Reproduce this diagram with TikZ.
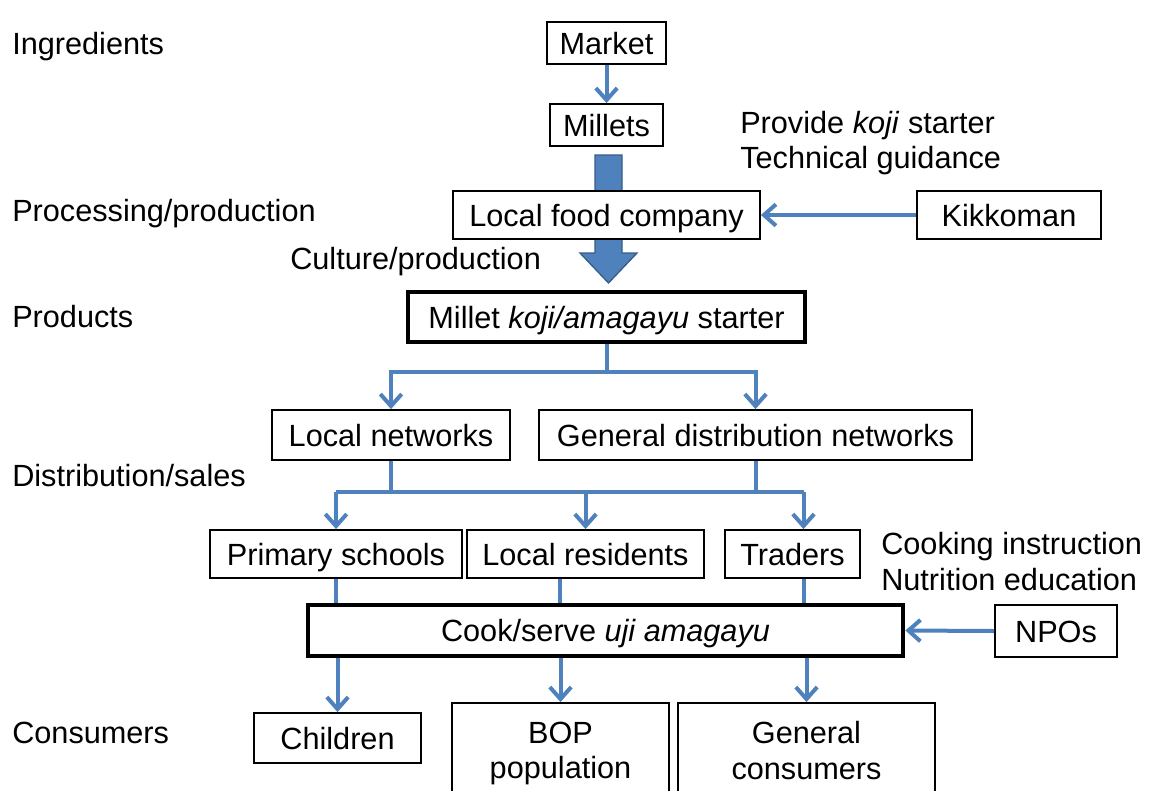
\documentclass[tikz,border=0pt]{standalone}
\usepackage{fontspec}
\setmainfont{Liberation Sans}
\usetikzlibrary{arrows.meta,fit,calc}
\definecolor{flowblue}{RGB}{79,129,189}
\definecolor{flowedge}{RGB}{56,93,138}
\begin{document}
\begin{tikzpicture}[x=0.75pt,y=-0.75pt,
  every node/.style={font=\fontsize{23}{26.5}\selectfont},
  every label/.style={text height=20pt,text depth=3.5pt,inner sep=0pt},
  box/.style={draw=black,line width=1.4pt,fill=white,inner sep=0pt},
  bigbox/.style={draw=black,line width=3.6pt,fill=white,inner sep=0pt},
  lbl/.style={anchor=base west,inner sep=0pt},
  conn/.style={draw=flowblue,line width=3pt},
  arr/.style={-{Straight Barb[length=9pt,width=16pt,line width=3pt]}}]
\useasboundingbox (0,0) rectangle (1149,790);
\fill[white] (0,0) rectangle (1149,790);
% block arrow (behind the box)
\filldraw[fill=flowblue,draw=flowedge,line width=1pt]
  (595,155) -- (622,155) -- (622,253) -- (637,253) -- (608.5,283) -- (580,253) -- (595,253) -- cycle;
% left-hand labels
\node[lbl] (t1) at (12,54) {Ingredients};
\node[lbl] (t2) at (12,221) {Processing/production};
\node[lbl] (t3) at (290,269) {Culture/production};
\node[lbl] (t4) at (12,327) {Products};
\node[lbl] (t5) at (12,486) {Distribution/sales};
\node[lbl] (t6) at (12,743) {Consumers};
\node[lbl] (t7) at (740,133) {Provide \textit{koji} starter};
\node[lbl] (t8) at (740,168) {Technical guidance};
\node[lbl] (t9) at (881,554) {Cooking instruction};
\node[lbl] (t10) at (881,590) {Nutrition education};
% boxes
\node[box,fit={(547,22)(666,64)},label={center:Market}] (mkt) {};
\node[box,fit={(550,104)(663,146)},label={center:Millets}] (mil) {};
\node[box,fit={(453,191)(760,239)},label={center:Local food company}] (lf) {};
\node[box,fit={(917,191)(1101,239)},label={center:Kikkoman}] (kk) {};
\node[bigbox,fit={(408,292)(805,342)},label={center:Millet \textit{koji/amagayu} starter}] (mk) {};
\node[box,fit={(272,410)(510,460)},label={center:Local networks}] (ln) {};
\node[box,fit={(539,410)(972,460)},label={center:General distribution networks}] (gd) {};
\node[box,fit={(210,530)(462,578)},label={center:Primary schools}] (ps) {};
\node[box,fit={(467,530)(704,578)},label={center:Local residents}] (lr) {};
\node[box,fit={(725,530)(860,578)},label={center:Traders}] (tr) {};
\node[bigbox,fit={(308,605)(903,656)},label={center:Cook/serve \textit{uji amagayu}}] (ck) {};
\node[box,fit={(995,605)(1117,657)},label={center:NPOs}] (np) {};
\node[box,fit={(254,713)(421,763)},label={center:Children}] (ch) {};
\node[box,fit={(452,703)(669,812)}] (bop) {};
\node[align=center,anchor=north] (bopt) at (560.5,717) {BOP\\population};
\node[box,fit={(678,703)(935,812)}] (gc) {};
\node[align=center,anchor=north] (gct) at (806.5,717) {General\\consumers};
% connectors
\draw[conn,arr] (mkt.south) -- (mil.north);
\draw[conn,arr] (kk.west) -- (lf.east);
\draw[conn,arr] (np.west) -- (ck.east);
\coordinate (h1) at (0,372);
\draw[conn] (mk.south) -- (mk.south |- h1);
\draw[conn,arr] (mk.south |- h1) -| (ln.north);
\draw[conn,arr] (mk.south |- h1) -| (gd.north);
\coordinate (h2) at (0,492);
\coordinate (trin) at ([xshift=8.25pt]tr.north);
\draw[conn] (ln.south) -- (ln.south |- h2);
\draw[conn] (gd.south) -- (gd.south |- h2);
\draw[conn] (ps.north |- h2) -- (trin |- h2);
\draw[conn,arr] (ps.north |- h2) -- (ps.north);
\draw[conn,arr] (lr.north |- h2) -- (lr.north);
\draw[conn,arr] (trin |- h2) -- (trin);
\draw[conn] (ps.south) -- (ps.south |- ck.north);
\draw[conn] ([xshift=-19.5pt]lr.south) -- ([xshift=-19.5pt]lr.south |- ck.north);
\draw[conn] ([xshift=8.25pt]tr.south) -- ([xshift=8.25pt]tr.south |- ck.north);
\draw[conn,arr] (ch.north |- ck.south) -- (ch.north);
\draw[conn,arr] (bop.north |- ck.south) -- (bop.north);
\draw[conn,arr] (gc.north |- ck.south) -- (gc.north);
\end{tikzpicture}
\end{document}
